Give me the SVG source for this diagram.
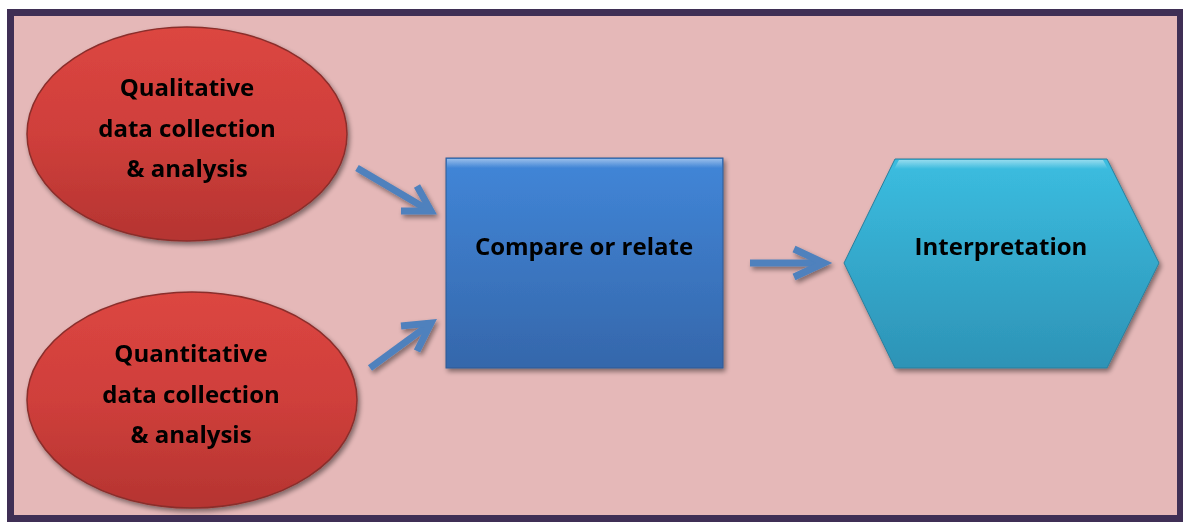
<svg xmlns="http://www.w3.org/2000/svg" width="1183" height="523" viewBox="0 0 1183 523">
  <style>
    .lbl { font-family: "Open Sans", "Liberation Sans", sans-serif; font-weight: bold; font-size: 24px; fill: #000; text-anchor: middle; font-variant-ligatures: none; }
    .conn { fill: none; stroke: #4f81bd; stroke-width: 7; stroke-linecap: butt; stroke-linejoin: miter; }
  </style>
  <defs>
    <linearGradient id="redFill" x1="0" y1="0" x2="0" y2="1">
      <stop offset="0" stop-color="#dc4641"/>
      <stop offset="0.5" stop-color="#cf3f3b"/>
      <stop offset="1" stop-color="#b53431"/>
    </linearGradient>
    <linearGradient id="blueFill" x1="0" y1="0" x2="0" y2="1">
      <stop offset="0" stop-color="#4186d8"/>
      <stop offset="1" stop-color="#3567ab"/>
    </linearGradient>
    <linearGradient id="cyanFill" x1="0" y1="0" x2="0" y2="1">
      <stop offset="0" stop-color="#3bbde0"/>
      <stop offset="1" stop-color="#2d93b6"/>
    </linearGradient>
    <linearGradient id="topGloss" x1="0" y1="0" x2="0" y2="1">
      <stop offset="0" stop-color="#ffffff" stop-opacity="0.45"/>
      <stop offset="1" stop-color="#ffffff" stop-opacity="0"/>
    </linearGradient>
    <filter id="shadow" x="-10%" y="-10%" width="125%" height="125%">
      <feGaussianBlur in="SourceAlpha" stdDeviation="2.5"/>
      <feOffset dx="2" dy="3" result="b"/>
      <feComponentTransfer><feFuncA type="linear" slope="0.45"/></feComponentTransfer>
      <feMerge><feMergeNode/><feMergeNode in="SourceGraphic"/></feMerge>
    </filter>
  </defs>

  <!-- frame -->
  <rect x="10.5" y="12.5" width="1170" height="506" fill="#e5b8b8" stroke="#3f2f55" stroke-width="7"/>

  <g id="node-qualitative" filter="url(#shadow)">
    <ellipse cx="187" cy="134" rx="160" ry="107" fill="url(#redFill)" stroke="#8a2e2c" stroke-width="1.5"/>
    <text class="lbl" x="187" y="96">Qualitative</text>
    <text class="lbl" x="187" y="137">data collection</text>
    <text class="lbl" x="187" y="177">&amp; analysis</text>
  </g>

  <g id="node-quantitative" filter="url(#shadow)">
    <ellipse cx="192" cy="400" rx="165" ry="108" fill="url(#redFill)" stroke="#8a2e2c" stroke-width="1.5"/>
    <text class="lbl" x="191" y="362">Quantitative</text>
    <text class="lbl" x="191" y="403">data collection</text>
    <text class="lbl" x="191" y="443">&amp; analysis</text>
  </g>

  <g id="node-compare" filter="url(#shadow)">
    <rect x="446" y="158" width="277" height="210" fill="url(#blueFill)" stroke="#2f5a94" stroke-width="1"/>
    <rect x="447" y="159" width="275" height="9" fill="url(#topGloss)"/>
    <text class="lbl" x="584" y="255">Compare or relate</text>
  </g>

  <g id="node-interpretation" filter="url(#shadow)">
    <polygon points="844,263 895,159 1107,159 1159,263 1107,368 895,368" fill="url(#cyanFill)" stroke="#2a7f9c" stroke-width="1"/>
    <polygon points="899,160 1103,160 1108,169 894,169" fill="url(#topGloss)"/>
    <text class="lbl" x="1001" y="255">Interpretation</text>
  </g>

  <g id="connectors" filter="url(#shadow)">
    <path class="conn" d="M357,168 L430,211"/>
    <path class="conn" d="M417,186 L431,211 L401,211"/>
    <path class="conn" d="M370,368 L430,324"/>
    <path class="conn" d="M401,326 L431,323 L417,351"/>
    <path class="conn" d="M750,263 L824,263"/>
    <path class="conn" d="M794,249 L824,263 L794,277"/>
  </g>
</svg>
